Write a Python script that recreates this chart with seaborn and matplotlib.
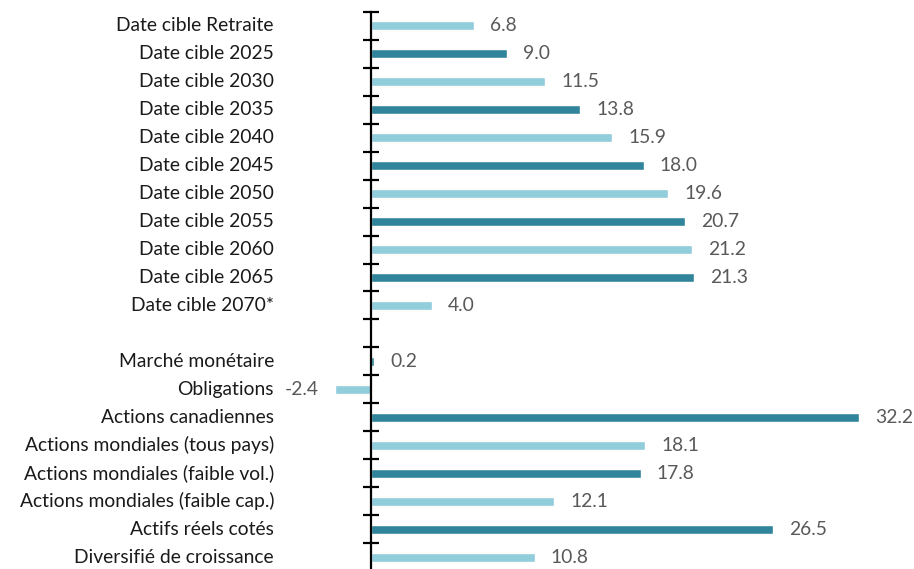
import matplotlib
matplotlib.use("Agg")
import matplotlib.pyplot as plt
import matplotlib.transforms as mtransforms
import seaborn as sns
import pandas as pd
import numpy as np

categories = [
    "Date cible Retraite", "Date cible 2025", "Date cible 2030", "Date cible 2035",
    "Date cible 2040", "Date cible 2045", "Date cible 2050", "Date cible 2055",
    "Date cible 2060", "Date cible 2065", "Date cible 2070*", "",
    "Marché monétaire", "Obligations", "Actions canadiennes",
    "Actions mondiales (tous pays)", "Actions mondiales (faible vol.)",
    "Actions mondiales (faible cap.)", "Actifs réels cotés", "Diversifié de croissance",
]
values = [6.8, 9.0, 11.5, 13.8, 15.9, 18.0, 19.6, 20.7, 21.2, 21.3, 4.0, np.nan,
          0.2, -2.4, 32.2, 18.1, 17.8, 12.1, 26.5, 10.8]
shade = ["light", "dark", "light", "dark", "light", "dark", "light", "dark", "light",
         "dark", "light", "light", "dark", "light", "dark", "light", "dark", "light",
         "dark", "light"]

LIGHT = "#92CDDC"
DARK = "#31849B"

sns.set_theme(style="white")
plt.rcParams["font.family"] = ["Lato", "DejaVu Sans"]

df = pd.DataFrame({"cat": [c if c else " " for c in categories],
                   "val": values, "shade": shade})
df["pos"] = np.arange(len(df))

W, H = 914, 569
fig = plt.figure(figsize=(W / 100, H / 100), dpi=100)
# axes geometry in pixels
px_left, px_right = 300, 905
zero_px = 371
scale = 15.16  # px per unit
top_px, bottom_px = 11.7, 571.3
ax = fig.add_axes([px_left / W, (H - bottom_px) / H,
                   (px_right - px_left) / W, (bottom_px - top_px) / H])

sns.barplot(data=df, x="val", y="pos", hue="shade", orient="h",
            palette={"light": LIGHT, "dark": DARK}, width=0.33, saturation=1,
            legend=False, ax=ax, native_scale=True, dodge=False)

ax.set_xlim((px_left - zero_px) / scale, (px_right - zero_px) / scale)
ax.set_ylim(len(df) - 0.5, -0.5)

for s in ["top", "right", "bottom"]:
    ax.spines[s].set_visible(False)
ax.spines["left"].set_position(("data", 0))
ax.spines["left"].set_color("black")
ax.spines["left"].set_linewidth(1.6)
ax.set_xticks([])
ax.set_yticks(np.arange(-0.5, len(df), 1.0))
ax.set_yticklabels([])
ax.tick_params(axis="y", direction="inout", length=11, width=1.6, color="black", left=True)
ax.set_xlabel("")
ax.set_ylabel("")

trans = mtransforms.blended_transform_factory(fig.transFigure, ax.transData)
for i, (c, v) in enumerate(zip(categories, values)):
    if c:
        ax.text(274 / W, i, c, transform=trans, ha="right", va="center",
                fontsize=13.9, color="#1a1a1a")
    if not np.isnan(v):
        off = 16 / scale
        if v >= 0:
            ax.text(v + off, i, f"{v:.1f}", ha="left", va="center",
                    fontsize=13.9, color="#595959")
        else:
            ax.text(v - off, i, f"{v:.1f}", ha="right", va="center",
                    fontsize=13.9, color="#595959")

fig.savefig("out.png", dpi=100)
